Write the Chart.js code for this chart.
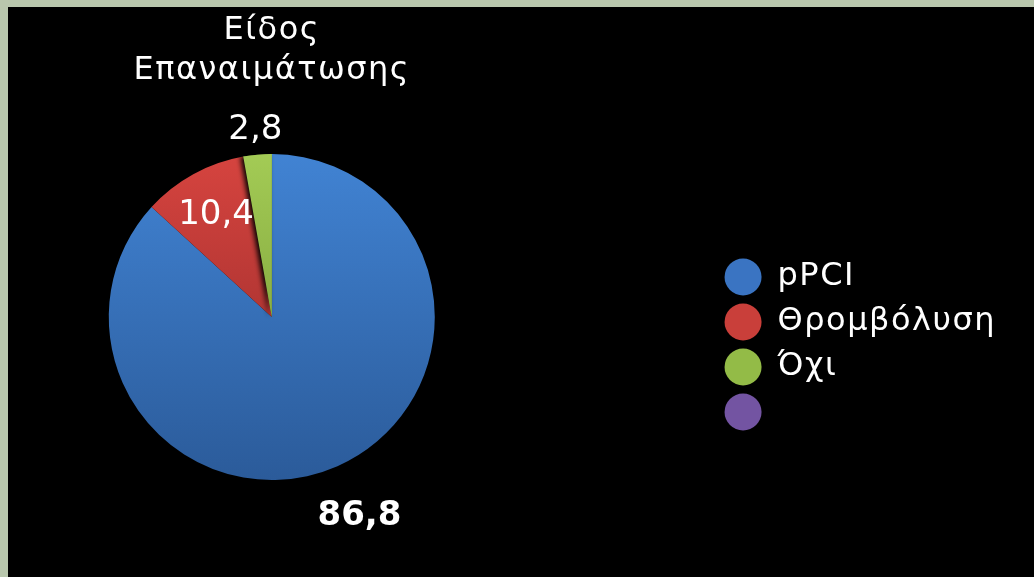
<!DOCTYPE html>
<html>
<head>
<meta charset="utf-8">
<script src="https://cdn.jsdelivr.net/npm/chart.js@4.4.1/dist/chart.umd.min.js"></script>
<style>
  html, body { margin: 0; padding: 0; }
  body { width: 1034px; height: 577px; background: #b9c7ad; overflow: hidden; position: relative; }
  #frame { position: absolute; left: 8px; top: 7px; width: 1026px; height: 570px; background: #000; overflow: hidden; }
  /* canvas runs past the left edge so the pie can sit left of the legend gap */
  #wrap { position: absolute; left: -200px; top: 0; width: 1226px; height: 570px; }
</style>
</head>
<body>
<div id="frame"><div id="wrap"><canvas id="chart"></canvas></div></div>
<script>
const categories = ["pPCI", "Θρομβόλυση", "Όχι", ""];
const values = [86.8, 10.4, 2.8, 0];
const titleLines = ["Είδος", "Επαναιμάτωσης"];

// slice gradient colours, top -> bottom
const sliceTop = ["#4183d3", "#d6443f", "#a3cb55", "#8364b0"];
const sliceBottom = ["#2b5b9a", "#8e2727", "#6f9130", "#55387a"];
const legendColors = ["#3a74c2", "#c93f3a", "#93bb47", "#7354a2"];

// value labels: distance from centre as share of radius, along slice middle
const labelRadius = [1.335, 0.71, 1.15];
const labelBold = [true, false, false];

Chart.defaults.font.family = '"DejaVu Sans", sans-serif';
Chart.defaults.color = "#fff";

function sliceColor(context) {
  const chart = context.chart;
  const i = context.dataIndex;
  const area = chart.chartArea;
  if (!area) return legendColors[i];
  const cy = (area.top + area.bottom) / 2;
  const r = Math.min(area.right - area.left, area.bottom - area.top) / 2;
  const g = chart.ctx.createLinearGradient(0, cy - r, 0, cy + r);
  g.addColorStop(0, sliceTop[i]);
  g.addColorStop(1, sliceBottom[i]);
  return g;
}

const spacingPlugin = {
  id: "spacing",
  beforeLayout(chart) {
    chart.ctx.letterSpacing = "1.5px";
  },
  beforeDraw(chart) {
    chart.ctx.letterSpacing = "1.5px";
  },
};

const valueLabels = {
  id: "valueLabels",
  afterDatasetsDraw(chart) {
    const ctx = chart.ctx;
    const arcs = chart.getDatasetMeta(0).data;

    // green slice casts a soft shadow onto the red one
    ctx.save();
    ctx.shadowColor = "rgba(0,0,0,0.95)";
    ctx.shadowBlur = 5;
    ctx.shadowOffsetX = -3;
    arcs[2].draw(ctx);
    ctx.restore();

    ctx.save();
    ctx.letterSpacing = "0px";
    ctx.fillStyle = "#fff";
    ctx.textAlign = "center";
    ctx.textBaseline = "middle";
    arcs.forEach((arc, i) => {
      if (!values[i]) return;
      const mid = (arc.startAngle + arc.endAngle) / 2;
      const r = arc.outerRadius * labelRadius[i];
      ctx.font = (labelBold[i] ? "bold " : "") + '34px "DejaVu Sans"';
      ctx.fillText(
        values[i].toFixed(1).replace(".", ","),
        arc.x + Math.cos(mid) * r,
        arc.y + Math.sin(mid) * r
      );
    });
    ctx.restore();
  },
};

new Chart(document.getElementById("chart"), {
  type: "pie",
  data: {
    labels: categories,
    datasets: [
      {
        data: values,
        backgroundColor: sliceColor,
        borderWidth: 0,
        hoverOffset: 0,
        offset: 0,
      },
    ],
  },
  options: {
    responsive: true,
    maintainAspectRatio: false,
    animation: false,
    events: [],
    layout: {
      padding: { left: 24, right: 28, top: 0, bottom: 97 },
    },
    plugins: {
      title: {
        display: true,
        text: titleLines,
        color: "#fff",
        fullSize: false,
        font: { size: 32, weight: "normal", lineHeight: 40 / 32 },
        padding: { top: 4, bottom: 63 },
      },
      legend: {
        position: "right",
        fullSize: false,
        align: "center",
        title: {
          display: true,
          text: " ",
          font: { size: 10 },
          padding: { top: 43, bottom: 0 },
        },
        labels: {
          usePointStyle: true,
          pointStyleWidth: 37,
          boxHeight: 26.2,
          padding: 13,
          color: "#fff",
          font: { size: 32 },
          generateLabels: () =>
            categories.map((c, i) => ({
              text: c,
              fillStyle: legendColors[i],
              strokeStyle: legendColors[i],
              lineWidth: 0,
              pointStyle: "circle",
              hidden: false,
              index: i,
              fontColor: "#fff",
            })),
        },
      },
      tooltip: { enabled: false },
    },
  },
  plugins: [spacingPlugin, valueLabels],
});
</script>
</body>
</html>
